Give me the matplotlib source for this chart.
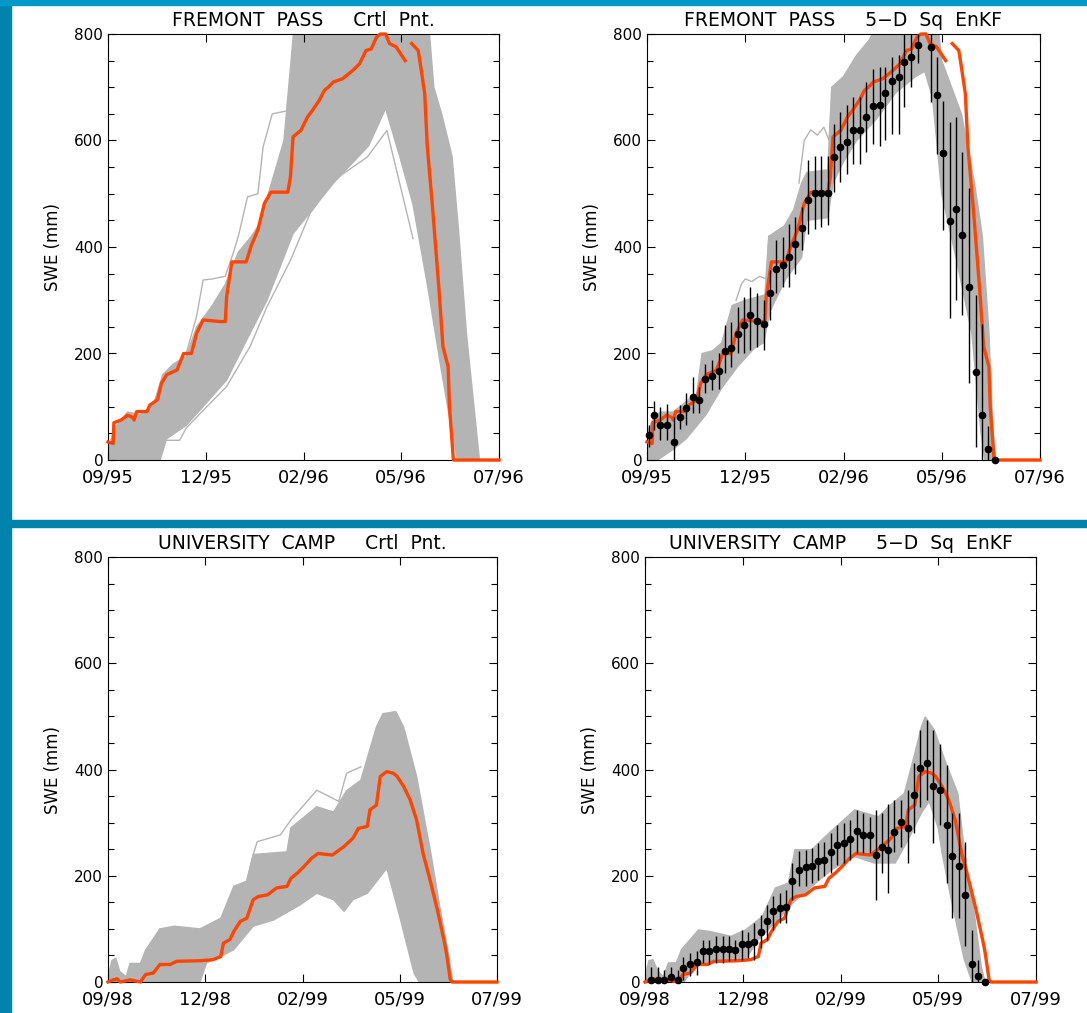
import numpy as np
import matplotlib.pyplot as plt
from matplotlib.patches import Rectangle
from matplotlib.ticker import MultipleLocator, NullLocator

nan = np.nan

# x axis: days since start of water year, ticks every 75 days
tick_days = [0, 75, 150, 225, 300]
fp_xlabels = ["09/95", "12/95", "02/96", "05/96", "07/96"]
uc_xlabels = ["09/98", "12/98", "02/99", "05/99", "07/99"]

# ---- Fremont Pass: observed SWE (red) ----
fp_truth_day = [0, 4, 4.5, 10, 15, 19, 20, 22, 30, 32, 38, 41, 45, 53, 58, 64, 68, 73, 86, 90, 91, 95,
                106, 110, 115, 120, 125, 138, 140, 142, 148, 153, 157, 162, 166, 169, 173, 180, 188, 193,
                198, 202, 206, 209, 213, 216, 221, 228, nan, 233, 238, 240, 243, 245, 249, 254, 257, 261,
                262, 265, 300]
fp_truth = [34, 31, 70, 75, 84, 80, 75, 91, 91, 103, 113, 144, 160, 169, 200, 200, 238, 263, 260, 260, 306, 372,
            372, 403, 432, 482, 503, 503, 532, 607, 619, 644, 657, 675, 694, 700, 710, 716, 732, 744,
            769, 772, 794, 800, 800, 782, 776, 750, nan, 782, 769, 738, 688, 588, 475, 319, 213, 175,
            100, 0, 0]

# ---- Fremont Pass control ensemble ----
fp_ctl_up_day = [0, 5, 15, 25, 35, 42, 50, 60, 68, 80, 90, 100, 110, 118, 123, 135, 143, 246, 250, 256, 264,
                 269, 275, 285, 300]
fp_ctl_up = [20, 60, 90, 85, 105, 160, 180, 195, 250, 290, 330, 390, 420, 450, 500, 600, 820, 820, 700, 650, 570,
             430, 238, 0, 0]
fp_ctl_lo_day = [0, 40, 45, 60, 71, 91, 109, 122, 142, 160, 173, 200, 213, 225, 234, 245, 255, 262, 268, 300]
fp_ctl_lo = [0, 0, 40, 65, 95, 150, 238, 300, 425, 480, 520, 590, 660, 560, 480, 330, 180, 80, 0, 0]
fp_ctl_line_a_day = [60, 68, 73, 80, 90, 96, 100, 107, 115, 119, 126, 140, 144]
fp_ctl_line_a = [200, 270, 338, 340, 345, 388, 420, 494, 500, 588, 650, 657, 820]
fp_ctl_line_b_day = [45, 55, 60, 71, 91, 109, 122, 140, 155, 173, 199, 214, 234]
fp_ctl_line_b = [37, 37, 60, 88, 138, 213, 288, 375, 463, 525, 569, 619, 416]

# ---- Fremont Pass EnKF ensemble ----
fp_enkf_up_day = [0, 5, 10, 20, 30, 38, 42, 50, 57, 65, 75, 90, 93, 105, 112, 118, 122, 138, 141, 150, 160,
                  170, 176, 222, 225, 240, 250, 256, 261, 264, 266]
fp_enkf_up = [50, 80, 90, 90, 110, 125, 200, 205, 220, 290, 300, 310, 420, 440, 470, 520, 540, 545, 700, 720, 760,
              790, 820, 820, 750, 650, 520, 420, 240, 60, 0]
fp_enkf_lo_day = [0, 8, 20, 30, 40, 45, 57, 69, 82, 89, 94, 106, 118, 122, 138, 142, 150, 160, 175, 190, 205,
                  212, 218, 225, 235, 248, 255, 258]
fp_enkf_lo = [0, 0, 20, 40, 70, 85, 135, 175, 210, 220, 280, 340, 380, 450, 455, 520, 560, 600, 640, 690, 720,
              730, 680, 500, 390, 238, 50, 0]
fp_enkf_line_c_day = [68, 72, 75, 80, 86, 91, 93]
fp_enkf_line_c = [300, 330, 340, 335, 345, 340, 420]
fp_enkf_line_d_day = [116, 120, 125, 130, 135, 139, 142]
fp_enkf_line_d = [520, 600, 620, 610, 625, 600, 700]

# ---- Fremont Pass observations with error bars ----
fp_obs_day = [1.3, 5.1, 10.2, 15.3, 20.3, 25.4, 29.7, 34.8, 39.9, 44.5, 49.6, 54.7, 59.2, 64.1, 69.2, 74.2,
              78.8, 83.9, 89.0, 93.6, 98.7, 103.7, 108.6, 113.1, 118.2, 122.8, 127.9, 133.0, 138.1, 142.6,
              147.7, 152.8, 157.4, 162.5, 167.0, 172.4, 177.5, 181.8, 186.9, 192.0, 196.5, 201.6, 206.7,
              216.9, 221.2, 226.3, 231.4, 236.0, 240.8, 245.9, 251.0, 255.8, 260.6, 265.7]
fp_obs = [47, 84, 66, 66, 33, 80, 97, 119, 113, 153, 158, 167, 205, 210, 236, 253, 272, 261, 256, 313, 358, 367,
          381, 405, 435, 488, 502, 502, 502, 569, 588, 597, 619, 619, 644, 664, 666, 689, 711, 719, 747, 757,
          779, 776, 685, 577, 448, 472, 423, 325, 166, 84, 21, 0]
fp_obs_lo = [25, 56, 38, 38, 0, 59, 66, 88, 88, 125, 131, 134, 163, 175, 200, 200, 206, 213, 206, 263, 313, 325,
             325, 350, 394, 425, 434, 438, 441, 503, 522, 538, 556, 556, 579, 594, 590, 600, 613, 613, 663, 700,
             745, 672, 575, 432, 266, 301, 272, 144, 25, 0, 0, 0]
fp_obs_hi = [65, 110, 100, 106, 81, 103, 125, 156, 138, 181, 188, 200, 253, 260, 288, 307, 325, 313, 300, 356,
             413, 419, 444, 457, 475, 563, 571, 571, 571, 631, 654, 666, 681, 681, 710, 735, 738, 738, 757, 760,
             800, 800, 800, 800, 757, 675, 635, 644, 579, 510, 309, 256, 63, 0]

# ---- University Camp: observed SWE (red) ----
uc_truth_day = [0, 4, 7, 9.5, 17, 25, 29, 35, 40, 48, 53, 71, 81, 87, 89, 94, 97, 102, 107, 112, 116, 123, 130,
                138, 141, 146, 151, 157, 162, 173, 182, 189, 193, 200, 202, 207, 210, 215, 220, 223, 228, 233,
                238, 243, 249, 254, 259, 261, 264, 265.5, 300]
uc_truth = [0, 4, 6, 0, 4, 0, 14, 17, 33, 33, 39, 40, 42, 48, 73, 80, 95, 114, 120, 155, 161, 164, 177,
            180, 195, 205, 217, 233, 242, 239, 255, 271, 289, 293, 324, 333, 387, 396, 393, 387, 368, 343,
            305, 242, 186, 136, 80, 55, 4, 0, 0]

# ---- University Camp control ensemble ----
uc_ctl_up_day = [0, 3, 6, 9, 14, 17, 25, 29, 40, 51, 71, 87, 97, 107, 112, 138, 141, 161, 174, 184, 195, 207,
                 212, 222, 228, 238, 249, 256, 262, 266]
uc_ctl_up = [10, 40, 45, 20, 10, 35, 35, 60, 100, 105, 100, 120, 180, 190, 240, 245, 290, 330, 320, 360, 380,
             480, 505, 509, 480, 387, 242, 140, 60, 0]
uc_ctl_lo_day = [0, 71, 76, 87, 97, 112, 128, 148, 161, 174, 182, 189, 200, 215, 225, 236, 240]
uc_ctl_lo = [0, 0, 36, 48, 61, 105, 117, 145, 167, 155, 133, 155, 167, 214, 123, 17, 0]
uc_ctl_line_e_day = [107, 112, 115, 133, 141, 150, 161, 170, 178, 184, 195]
uc_ctl_line_e = [190, 240, 264, 277, 305, 330, 361, 350, 340, 393, 405]

# ---- University Camp EnKF ensemble ----
uc_enkf_up_day = [0, 3, 6, 10, 14, 18, 24, 28, 41, 50, 66, 77, 90, 100, 110, 115, 128, 141, 161, 169, 179, 187,
                  199, 207, 212, 215, 222, 230, 240, 245, 253, 258, 261]
uc_enkf_up = [10, 40, 42, 20, 10, 36, 36, 61, 98, 95, 86, 98, 123, 177, 186, 249, 249, 280, 324, 318, 311, 330,
              355, 430, 480, 499, 474, 418, 355, 249, 123, 29, 0]
uc_enkf_lo_day = [0, 30, 38, 51, 77, 87, 102, 113, 128, 143, 161, 176, 192, 202, 212, 218, 225, 228, 235, 245,
                  251]
uc_enkf_lo = [0, 0, 29, 36, 42, 80, 117, 148, 180, 211, 236, 224, 224, 268, 318, 340, 290, 242, 155, 42, 0]

# ---- University Camp observations with error bars ----
uc_obs_day = [4.6, 10.2, 14.8, 19.9, 25.1, 29.4, 34.5, 39.6, 44.8, 49.4, 54.5, 59.6, 64.2, 69.3, 74.2, 78.8,
              83.9, 88.7, 93.4, 98.5, 103.6, 108.2, 113.0, 118.2, 123.3, 127.9, 133.0, 137.6, 142.7, 147.6,
              152.7, 157.3, 162.4, 167.5, 172.6, 177.2, 181.6, 186.7, 191.3, 196.4, 201.5, 206.6, 211.3,
              216.4, 221.0, 226.3, 231.5, 235.8, 240.9, 245.5, 250.6, 255.8, 260.9]
uc_obs = [4, 4, 4, 9, 4, 26, 33, 37, 58, 58, 62, 62, 62, 60, 71, 71, 75, 95, 114, 133, 139, 141, 190, 211, 216,
          219, 227, 230, 244, 257, 261, 270, 285, 277, 277, 239, 255, 249, 283, 301, 290, 352, 402, 412, 369,
          362, 295, 237, 218, 164, 34, 11, 0]
uc_obs_lo = [0, 0, 0, 0, 0, 4, 11, 14, 36, 33, 36, 36, 39, 42, 42, 45, 42, 64, 80, 98, 111, 111, 155, 180, 180,
             186, 192, 199, 205, 221, 224, 230, 242, 242, 242, 155, 206, 168, 244, 255, 224, 280, 329, 342, 262,
             295, 186, 120, 120, 67, 0, 0, 0]
uc_obs_hi = [29, 29, 23, 29, 23, 48, 55, 58, 80, 80, 86, 86, 86, 80, 98, 95, 111, 127, 145, 161, 167, 174, 224,
             246, 249, 252, 261, 264, 280, 296, 299, 305, 324, 318, 311, 324, 318, 336, 343, 343, 361, 412, 474,
             493, 474, 448, 409, 318, 318, 264, 98, 42, 0]

GRAY = "#b4b4b4"
RED = "#ff4500"
W, H = 1087, 1013

plt.rcParams['font.family'] = ['DejaVu Sans']
fig = plt.figure(figsize=(W / 100, H / 100), dpi=100)

# blue frame
fig.add_artist(Rectangle((0, 0), 11 / W, 1, transform=fig.transFigure, color="#0083ad", zorder=0))
fig.add_artist(Rectangle((0, 1 - 5 / H), 1, 5 / H, transform=fig.transFigure, color="#0098c9", zorder=0))
fig.add_artist(Rectangle((11 / W, 486 / H), 1, 7 / H, transform=fig.transFigure, color="#0082aa", zorder=0))


def ensemble(ax, up_d, up, lo_d, lo, lines):
    xs = list(up_d) + list(lo_d)[::-1]
    ys = list(up) + list(lo)[::-1]
    ax.fill(xs, ys, color=GRAY, lw=1.0, zorder=1)
    for d, v in lines:
        ax.plot(d, v, color=GRAY, lw=1.0, zorder=1)


def panel(rect, title, xlabels, truth_d, truth):
    ax = fig.add_axes(rect)
    ax.plot(truth_d, truth, color=RED, lw=2.4, zorder=4, clip_on=False)
    ax.set_xlim(0, 300)
    ax.set_ylim(0, 800)
    ax.set_xticks(tick_days)
    ax.set_xticklabels(xlabels, fontsize=13)
    ax.set_yticks(range(0, 801, 200))
    ax.yaxis.set_minor_locator(MultipleLocator(50))
    ax.xaxis.set_minor_locator(NullLocator())
    ax.tick_params(axis='y', labelsize=11)
    ax.tick_params(which='both', direction='in', top=True, right=True, width=0.8)
    ax.tick_params(which='major', length=6)
    ax.tick_params(which='minor', length=4)
    ax.tick_params(axis='x', pad=6)
    for s in ax.spines.values():
        s.set_linewidth(0.8)
    ax.set_title(title, fontsize=13.5, pad=6)
    ax.set_ylabel("SWE (mm)", fontsize=12)
    ax.yaxis.set_label_coords(-0.118, 0.5)
    return ax


def obs(ax, d, v, lo, hi):
    v = np.array(v, float)
    err = [v - np.array(lo, float), np.array(hi, float) - v]
    ax.errorbar(d, v, yerr=err, fmt='o', color='black', ms=4.5, elinewidth=1.0,
                capsize=0, zorder=5, clip_on=False)


# top left
ax1 = panel([108 / W, 1 - 460 / H, 391 / W, 426 / H], "FREMONT  PASS     Crtl  Pnt.", fp_xlabels,
            fp_truth_day, fp_truth)
ensemble(ax1, fp_ctl_up_day, fp_ctl_up, fp_ctl_lo_day, fp_ctl_lo,
         [(fp_ctl_line_a_day, fp_ctl_line_a), (fp_ctl_line_b_day, fp_ctl_line_b)])

# top right
ax2 = panel([647 / W, 1 - 460 / H, 393 / W, 426 / H], "FREMONT  PASS     5\u2212D  Sq  EnKF", fp_xlabels,
            fp_truth_day, fp_truth)
ensemble(ax2, fp_enkf_up_day, fp_enkf_up, fp_enkf_lo_day, fp_enkf_lo,
         [(fp_enkf_line_c_day, fp_enkf_line_c), (fp_enkf_line_d_day, fp_enkf_line_d)])
obs(ax2, fp_obs_day, fp_obs, fp_obs_lo, fp_obs_hi)

# bottom left
ax3 = panel([108 / W, 1 - 982 / H, 389 / W, 425 / H], "UNIVERSITY  CAMP     Crtl  Pnt.", uc_xlabels,
            uc_truth_day, uc_truth)
ensemble(ax3, uc_ctl_up_day, uc_ctl_up, uc_ctl_lo_day, uc_ctl_lo, [(uc_ctl_line_e_day, uc_ctl_line_e)])

# bottom right
ax4 = panel([645 / W, 1 - 982 / H, 391 / W, 425 / H], "UNIVERSITY  CAMP     5\u2212D  Sq  EnKF", uc_xlabels,
            uc_truth_day, uc_truth)
ensemble(ax4, uc_enkf_up_day, uc_enkf_up, uc_enkf_lo_day, uc_enkf_lo, [])
obs(ax4, uc_obs_day, uc_obs, uc_obs_lo, uc_obs_hi)

fig.savefig("out.png", dpi=100)
